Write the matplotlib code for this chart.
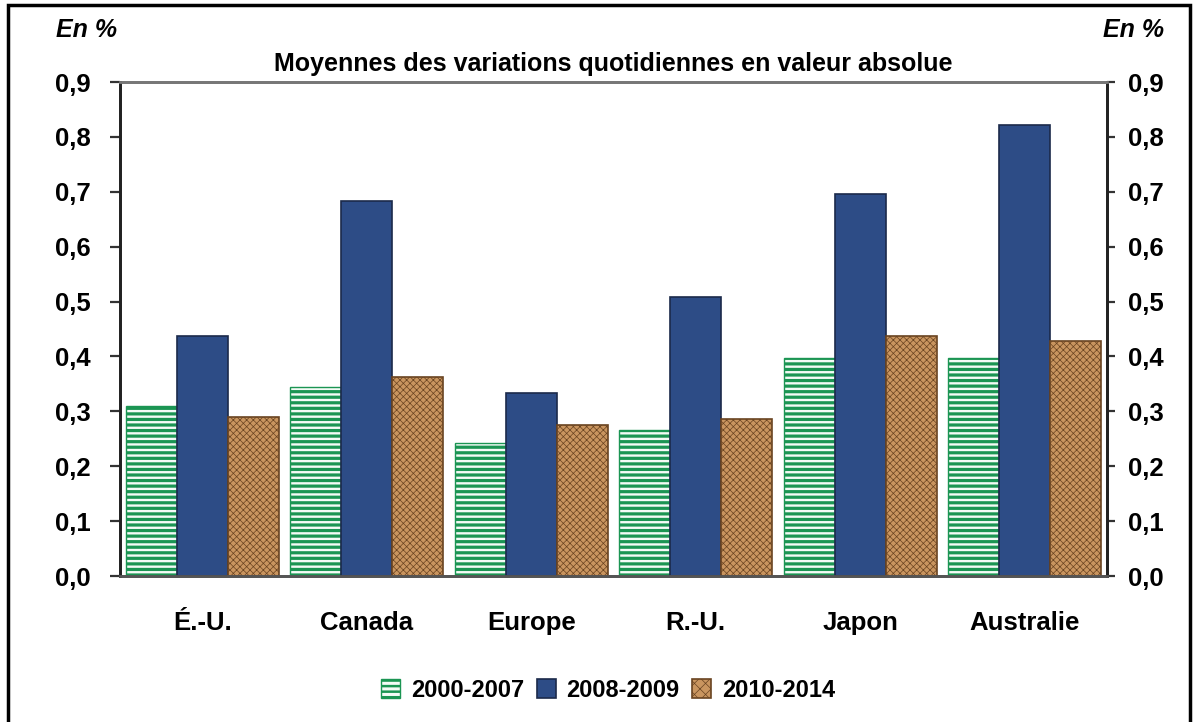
import matplotlib
matplotlib.use("Agg")
import matplotlib.pyplot as plt
import numpy as np
from matplotlib.patches import Rectangle

plt.rcParams['font.family'] = ['Liberation Sans', 'DejaVu Sans']
plt.rcParams['hatch.linewidth'] = 1.8

categories = ["É.-U.", "Canada", "Europe", "R.-U.", "Japon", "Australie"]
series_names = ["2000-2007", "2008-2009", "2010-2014"]
v_2000_2007 = [0.31, 0.344, 0.242, 0.266, 0.397, 0.397]
v_2008_2009 = [0.437, 0.683, 0.333, 0.508, 0.696, 0.821]
v_2010_2014 = [0.29, 0.362, 0.275, 0.286, 0.437, 0.428]
yticks = [0.0, 0.1, 0.2, 0.3, 0.4, 0.5, 0.6, 0.7, 0.8, 0.9]
ytick_labels = ["0,0", "0,1", "0,2", "0,3", "0,4", "0,5", "0,6", "0,7", "0,8", "0,9"]

fig = plt.figure(figsize=(11.97, 7.22), dpi=100)
ax = fig.add_axes([0.1003, 0.2022, 0.8245, 0.6842])

x = np.arange(len(categories))
w = 0.31

b1 = ax.bar(x - w, v_2000_2007, w, facecolor='#F4FBF6', edgecolor='#1B9553',
            hatch='---', linewidth=1.0, label=series_names[0], zorder=3)
b2 = ax.bar(x, v_2008_2009, w, facecolor='#2D4C86', edgecolor='#1B2A4A',
            linewidth=1.2, label=series_names[1], zorder=3)
b3 = ax.bar(x + w, v_2010_2014, w, facecolor='#C9955F', edgecolor='#6A4421',
            hatch='xxxxx', linewidth=1.2, label=series_names[2], zorder=3)
for p in b1.patches:
    if hasattr(p, 'set_hatch_linewidth'):
        p.set_hatch_linewidth(2.3)
for p in b3.patches:
    if hasattr(p, 'set_hatch_linewidth'):
        p.set_hatch_linewidth(0.5)

ax.set_xlim(-0.5, len(categories) - 0.5)
ax.set_ylim(0, 0.9)
ax.set_yticks(yticks)
ax.set_yticklabels(ytick_labels, fontsize=18.5, fontweight='bold')
ax.tick_params(axis='y', direction='out', length=7, width=1.6, pad=14,
               left=True, right=False, labelleft=True, labelright=False, color='#333333')
ax.set_xticks(x)
ax.set_xticklabels(categories, fontsize=18.5, fontweight='bold')
ax.tick_params(axis='x', length=0, pad=25)

ax2 = ax.twinx()
ax2.set_ylim(ax.get_ylim())
ax2.set_yticks(yticks)
ax2.set_yticklabels(ytick_labels, fontsize=18.5, fontweight='bold')
ax2.tick_params(axis='y', direction='out', length=6, width=1.6, pad=9, color='#333333')

for a in (ax, ax2):
    for s in ['left', 'right']:
        a.spines[s].set_linewidth(2.0)
        a.spines[s].set_color('#222222')
    a.spines['bottom'].set_linewidth(2.0)
    a.spines['bottom'].set_color('#555555')
    a.spines['top'].set_linewidth(2.0)
    a.spines['top'].set_color('#777777')

ax.set_title("Moyennes des variations quotidiennes en valeur absolue",
             fontsize=18, fontweight='bold', pad=8)
fig.text(0.0727, 0.958, "En %", fontsize=18, fontweight='bold', style='italic',
         ha='center', va='center')
fig.text(0.947, 0.958, "En %", fontsize=18, fontweight='bold', style='italic',
         ha='center', va='center')

leg = fig.legend(handles=[b1, b2, b3], labels=series_names, loc='center',
                 bbox_to_anchor=(0.508, 0.044), ncol=3, frameon=False,
                 prop={'size': 17, 'weight': 'bold'}, handlelength=0.8,
                 handleheight=0.8, handletextpad=0.45, columnspacing=0.55)
handles = getattr(leg, 'legend_handles', None) or getattr(leg, 'legendHandles', [])
if len(handles) == 3 and hasattr(handles[2], 'set_hatch_linewidth'):
    handles[2].set_hatch_linewidth(0.5)
    handles[2].set_hatch('xxx')

fig.patches.append(Rectangle((0.0065, -0.1), 0.988, 1.0935, transform=fig.transFigure,
                             fill=False, edgecolor='black', linewidth=2.5))

fig.savefig("out.png", dpi=100)
